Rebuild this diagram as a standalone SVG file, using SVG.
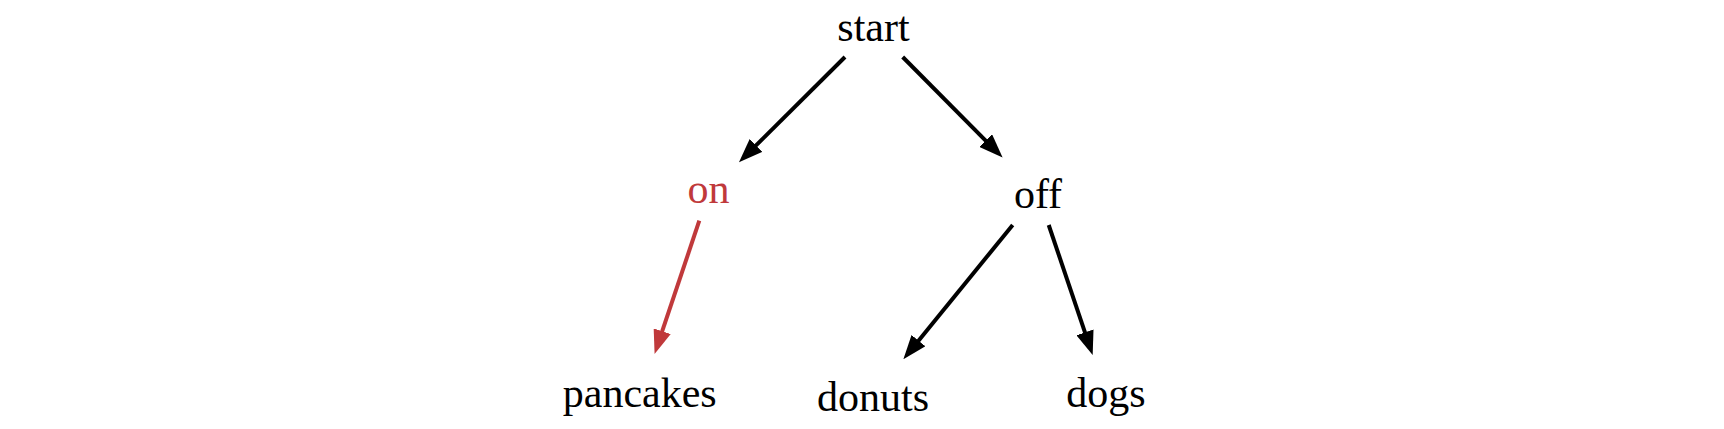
<svg xmlns="http://www.w3.org/2000/svg" width="1724" height="429" viewBox="0 0 1724 429">
<style>
  .lbl { font-family: "Liberation Serif", "Times New Roman", serif; font-size: 42px; text-anchor: middle; fill: #000; }
  .red { fill: #c0393b; }
  .edge { stroke: #000; stroke-width: 4; fill: none; }
  .edge.hl { stroke: #c0393b; }
</style>
<defs>
  <marker id="ah" viewBox="0 -9 24 18" refX="1" refY="0" markerWidth="24" markerHeight="18" markerUnits="userSpaceOnUse" orient="auto">
    <path d="M0,-9 L24,0 L0,9 z" fill="#000"/>
  </marker>
  <marker id="ahr" viewBox="0 -9 24 18" refX="1" refY="0" markerWidth="24" markerHeight="18" markerUnits="userSpaceOnUse" orient="auto">
    <path d="M0,-9 L24,0 L0,9 z" fill="#c0393b"/>
  </marker>
</defs>
<rect width="1724" height="429" fill="#fff"/>
<g id="connectors">
  <line class="edge" x1="845" y1="57" x2="755.3" y2="146.1" marker-end="url(#ah)"/>
  <line class="edge" x1="902.7" y1="57" x2="986.4" y2="141.3" marker-end="url(#ah)"/>
  <line class="edge hl" x1="699.3" y1="220.7" x2="661.9" y2="332.2" marker-end="url(#ahr)"/>
  <line class="edge" x1="1012.7" y1="225" x2="917.9" y2="341.4" marker-end="url(#ah)"/>
  <line class="edge" x1="1048.7" y1="225" x2="1085.3" y2="333.3" marker-end="url(#ah)"/>
</g>
<g id="node-start"><text class="lbl" x="873.5" y="41">start</text></g>
<g id="node-on"><text class="lbl red" x="708.5" y="203">on</text></g>
<g id="node-off"><text class="lbl" x="1038" y="208">off</text></g>
<g id="node-pancakes"><text class="lbl" x="639.7" y="407">pancakes</text></g>
<g id="node-donuts"><text class="lbl" x="873" y="411">donuts</text></g>
<g id="node-dogs"><text class="lbl" x="1106" y="407">dogs</text></g>
</svg>
